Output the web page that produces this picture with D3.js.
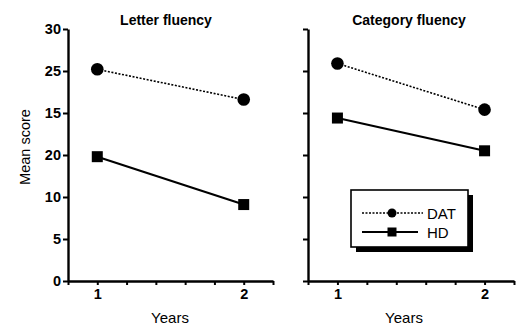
<!DOCTYPE html>
<html><head><meta charset="utf-8">
<script src="https://cdn.jsdelivr.net/npm/d3@7/dist/d3.min.js"></script>
<style>
body{margin:0;background:#fff;}
svg{display:block;font-family:"Liberation Sans",Arial,Helvetica,sans-serif;}
</style></head><body>
<script>
// Data (values on the plotted scale)
const years = [1, 2];
const panels = ["Letter fluency", "Category fluency"];
const datValues = [[25.2, 21.6], [25.9, 20.4]];
const hdValues = [[14.8, 9.1], [19.4, 15.5]];
const yTickValues = [0, 5, 10, 15, 20, 25, 30];
const yTickLabels = ["0", "5", "10", "20", "15", "25", "30"]; // as printed in the original
const xTickValues = [0.8, 1.0, 1.2, 1.4, 1.6, 1.8, 2.0, 2.2];
const seriesNames = ["DAT", "HD"];

const W = 522, H = 327;
const svg = d3.select("body").append("svg").attr("width", W).attr("height", H);

const y = d3.scaleLinear().domain([0, 30]).range([281, 29]);
const xRanges = [[68, 273], [308, 514]];

panels.forEach((title, i) => {
  const x = d3.scaleLinear().domain([0.8, 2.2]).range(xRanges[i]);
  const g = svg.append("g");

  // y axis
  const yAxis = d3.axisLeft(y).tickValues(yTickValues).tickSize(5).tickSizeOuter(0)
    .tickFormat((d, k) => i === 0 ? yTickLabels[k] : "");
  const ya = g.append("g").attr("transform", `translate(${xRanges[i][0]},0)`).call(yAxis);
  ya.select(".domain").attr("stroke", "#000").attr("stroke-width", 2.4);
  ya.selectAll(".tick line").attr("stroke", "#000").attr("stroke-width", 2);
  ya.selectAll(".tick text").attr("font-size", 14.5).attr("font-weight", "bold").attr("fill", "#000").attr("x", -7);

  // x axis
  const xAxis = d3.axisBottom(x).tickValues(xTickValues).tickSize(4).tickSizeOuter(0)
    .tickFormat(d => (Math.abs(d - 1) < 1e-6 || Math.abs(d - 2) < 1e-6) ? d3.format("d")(d) : "");
  const xa = g.append("g").attr("transform", `translate(0,${y(0)})`).call(xAxis);
  xa.select(".domain").attr("stroke", "#000").attr("stroke-width", 2.4);
  xa.selectAll(".tick line").attr("stroke", "#000").attr("stroke-width", 2);
  xa.selectAll(".tick text").attr("font-size", 14.5).attr("font-weight", "bold").attr("fill", "#000").attr("y", 8);

  // title
  g.append("text").attr("x", i === 0 ? 166 : 409).attr("y", 25)
    .attr("text-anchor", "middle").attr("font-size", 14).attr("font-weight", "bold").text(title);
  // x label
  g.append("text").attr("x", i === 0 ? 170 : 404).attr("y", 323)
    .attr("text-anchor", "middle").attr("font-size", 15).text("Years");

  const line = d3.line().x((d, k) => x(years[k])).y(d => y(d));
  // DAT
  g.append("path").datum(datValues[i]).attr("d", line).attr("fill", "none")
    .attr("stroke", "#000").attr("stroke-width", 1.6).attr("stroke-dasharray", "2,1.6");
  g.selectAll("circle.dat").data(datValues[i]).join("circle")
    .attr("cx", (d, k) => x(years[k])).attr("cy", d => y(d)).attr("r", 6.3).attr("fill", "#000");
  // HD
  g.append("path").datum(hdValues[i]).attr("d", line).attr("fill", "none")
    .attr("stroke", "#000").attr("stroke-width", 2.2);
  g.selectAll("rect.hd").data(hdValues[i]).join("rect")
    .attr("x", (d, k) => x(years[k]) - 5.5).attr("y", d => y(d) - 5.5)
    .attr("width", 11).attr("height", 11).attr("fill", "#000");
});

// y label
svg.append("text").attr("transform", "translate(30,147) rotate(-90)")
  .attr("text-anchor", "middle").attr("font-size", 14.5).text("Mean score");

// legend
const lg = svg.append("g");
lg.append("rect").attr("x", 356).attr("y", 195).attr("width", 117).attr("height", 57).attr("fill", "#000");
lg.append("rect").attr("x", 351).attr("y", 190).attr("width", 117).attr("height", 57)
  .attr("fill", "#fff").attr("stroke", "#000").attr("stroke-width", 1.6);
const rowsY = [213, 232];
seriesNames.forEach((name, k) => {
  lg.append("line").attr("x1", 362).attr("x2", k === 0 ? 423 : 418).attr("y1", rowsY[k]).attr("y2", rowsY[k])
    .attr("stroke", "#000").attr("stroke-width", k === 0 ? 1.4 : 2)
    .attr("stroke-dasharray", k === 0 ? "2,1.5" : null);
  if (k === 0) lg.append("circle").attr("cx", 392).attr("cy", rowsY[k]).attr("r", 4.5).attr("fill", "#000");
  else lg.append("rect").attr("x", 387.5).attr("y", rowsY[k] - 4.5).attr("width", 9).attr("height", 9).attr("fill", "#000");
  lg.append("text").attr("x", 427).attr("y", rowsY[k] + 5.5).attr("font-size", 15).text(name);
});
</script>
</body></html>
